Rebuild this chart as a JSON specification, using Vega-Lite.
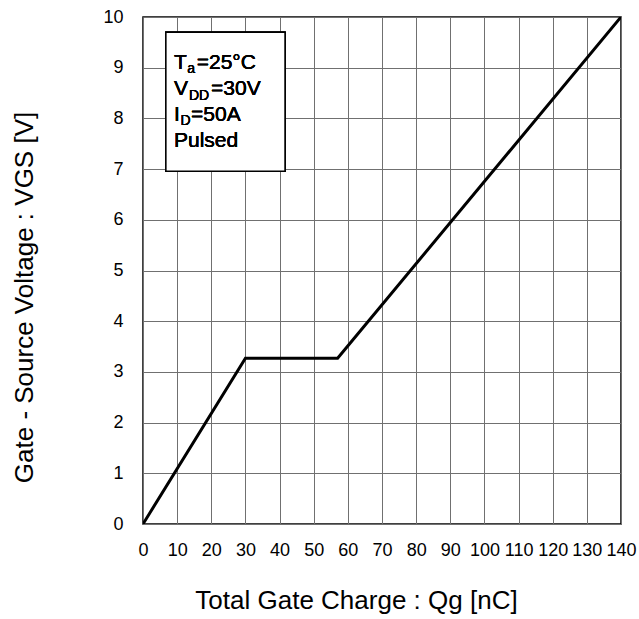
{
  "$schema": "https://vega.github.io/schema/vega-lite/v6.json",
  "width": 478,
  "height": 507,
  "autosize": {"type": "none"},
  "padding": {"left": 143, "top": 17, "right": 18, "bottom": 95},
  "background": "white",
  "config": {
    "font": "Liberation Sans",
    "view": {"stroke": "black", "strokeWidth": 1.5},
    "text": {"fontWeight": 400, "font": "Liberation Sans", "fill": "black", "align": "left", "baseline": "alphabetic"},
    "axis": {
      "labelFont": "Liberation Sans",
      "titleFont": "Liberation Sans",
      "labelColor": "black",
      "titleColor": "black",
      "titleFontWeight": "normal",
      "gridColor": "#707070",
      "gridWidth": 1,
      "gridOpacity": 1,
      "domain": false,
      "ticks": false,
      "labelFontSize": 18,
      "titleFontSize": 26,
      "labelFlush": false,
      "labelOverlap": false,
      "labelBound": false,
      "titleBaseline": "alphabetic",
      "titleAlign": "center",
      "tickCount": 30,
      "format": "d"
    },
    "axisX": {"labelPadding": 17, "titleX": 213, "titleY": 84},
    "axisY": {"labelPadding": 20, "titleAngle": 270, "titleX": -111, "titleY": 280}
  },
  "data": {
    "values": [
      {"q": 0, "v": 0},
      {"q": 30, "v": 3.27},
      {"q": 57, "v": 3.27},
      {"q": 140, "v": 10}
    ]
  },
  "layer": [
    {
      "mark": {"type": "line", "color": "black", "strokeWidth": 3, "clip": true},
      "encoding": {
        "x": {
          "field": "q",
          "type": "quantitative",
          "scale": {"domain": [0, 140], "nice": false, "zero": false},
          "axis": {"values": [0, 10, 20, 30, 40, 50, 60, 70, 80, 90, 100, 110, 120, 130, 140], "tickCount": 30, "format": "d", "title": "Total Gate Charge : Qg [nC]"}
        },
        "y": {
          "field": "v",
          "type": "quantitative",
          "scale": {"domain": [0, 10], "nice": false},
          "axis": {"values": [0, 1, 2, 3, 4, 5, 6, 7, 8, 9, 10], "tickCount": 30, "format": "d", "title": "Gate - Source Voltage : VGS [V]"}
        }
      }
    },
    {
      "mark": {"type": "rect", "fill": "white", "stroke": "black", "strokeWidth": 1.5},
      "encoding": {
        "x": {"datum": 6.7},
        "x2": {"datum": 41.6},
        "y": {"datum": 9.7},
        "y2": {"datum": 6.96}
      }
    },
    {"mark": {"type": "text", "text": "T", "fontSize": 21},
     "encoding": {"x": {"datum": 9.08}, "y": {"datum": 8.97}}},
    {"mark": {"type": "text", "text": "a", "fontSize": 14},
     "encoding": {"x": {"datum": 12.95}, "y": {"datum": 8.886}}},
    {"mark": {"type": "text", "text": "=25°C", "fontSize": 21},
     "encoding": {"x": {"datum": 15.73}, "y": {"datum": 8.97}}},
    {"mark": {"type": "text", "text": "V", "fontSize": 21},
     "encoding": {"x": {"datum": 9.08}, "y": {"datum": 8.46}}},
    {"mark": {"type": "text", "text": "DD", "fontSize": 14},
     "encoding": {"x": {"datum": 13.47}, "y": {"datum": 8.37}}},
    {"mark": {"type": "text", "text": "=30V", "fontSize": 21},
     "encoding": {"x": {"datum": 19.92}, "y": {"datum": 8.46}}},
    {"mark": {"type": "text", "text": "I", "fontSize": 21},
     "encoding": {"x": {"datum": 9.08}, "y": {"datum": 7.95}}},
    {"mark": {"type": "text", "text": "D", "fontSize": 14},
     "encoding": {"x": {"datum": 10.98}, "y": {"datum": 7.86}}},
    {"mark": {"type": "text", "text": "=50A", "fontSize": 21},
     "encoding": {"x": {"datum": 14.06}, "y": {"datum": 7.95}}},
    {"mark": {"type": "text", "text": "Pulsed", "fontSize": 21},
     "encoding": {"x": {"datum": 9.08}, "y": {"datum": 7.44}}}
  ]
}
